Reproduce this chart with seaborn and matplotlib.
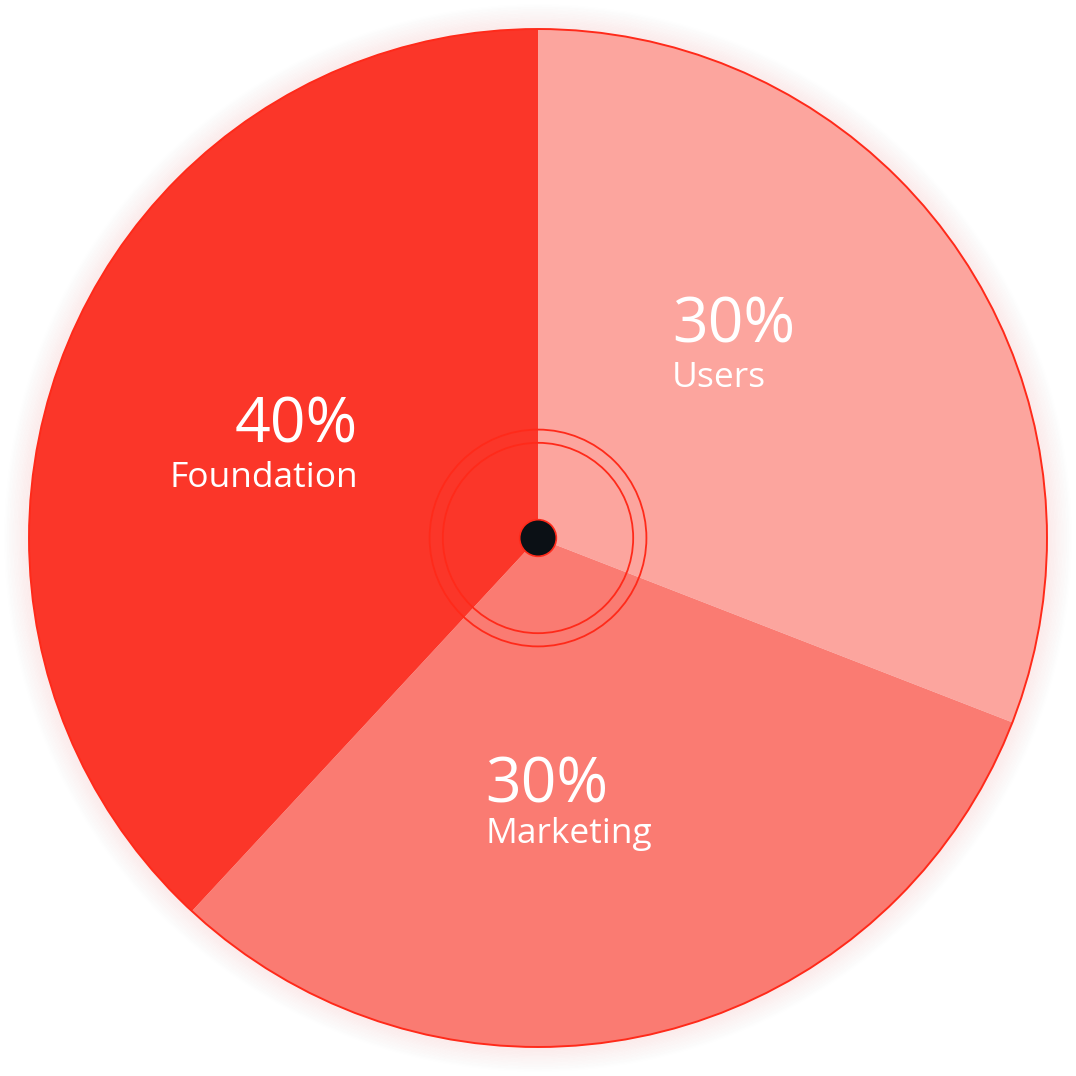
import matplotlib
matplotlib.use("Agg")
import matplotlib.pyplot as plt
import seaborn as sns
import numpy as np

sns.set_theme(style="white")
plt.rcParams['font.family'] = ['Open Sans', 'DejaVu Sans']

categories = ["Users", "Marketing", "Foundation"]
# wedge shares as drawn in the picture (labels read 30/30/40)
shares = [30.9, 31.0, 38.1]
colors = ["#FCA59E", "#FA7B72", "#FB3629"]
pct_labels = ["30%", "30%", "40%"]

fig = plt.figure(figsize=(10.76, 10.76), dpi=100)
ax = fig.add_axes([0, 0, 1, 1])
lim = 1.057

# glow
for i, r in enumerate(np.linspace(1.0, 1.045, 18)):
    ax.add_patch(plt.Circle((0, 0), r, facecolor="none", edgecolor="#F87F7F",
                            linewidth=3, alpha=0.05 * (1 - i / 18), zorder=0))

ax.pie(shares, colors=colors, startangle=90, counterclock=False,
       radius=1.0, wedgeprops=dict(linewidth=0), frame=True)
ax.set_xlim(-lim, lim)
ax.set_ylim(-lim, lim)
ax.set_aspect("equal")
ax.axis("off")

ax.add_patch(plt.Circle((0, 0), 1.0, facecolor="none", edgecolor="#FF2A1A", linewidth=1.4, zorder=5))
ax.add_patch(plt.Circle((0, 0), 0.213, facecolor="none", edgecolor="#FF2A1A", linewidth=1.3, zorder=5))
ax.add_patch(plt.Circle((0, 0), 0.187, facecolor="none", edgecolor="#FF2A1A", linewidth=1.3, zorder=5))
ax.add_patch(plt.Circle((0, 0), 0.036, facecolor="#0B1015", edgecolor="#FF2A1A", linewidth=1.2, zorder=6))

# labels
label_pos = {
    "Users": (0.263, 0.385, 0.297, "left"),
    "Marketing": (-0.104, -0.519, -0.599, "left"),
    "Foundation": (-0.354, 0.187, 0.100, "right"),
}
for cat, pct in zip(categories, pct_labels):
    x, y1, y2, ha = label_pos[cat]
    ax.text(x, y1, pct, color="white", fontsize=45, ha=ha, va="baseline", zorder=7)
    ax.text(x, y2, cat, color="white", fontsize=25.5, ha=ha, va="baseline", zorder=7)

fig.savefig("out.png", dpi=100, facecolor="white")
